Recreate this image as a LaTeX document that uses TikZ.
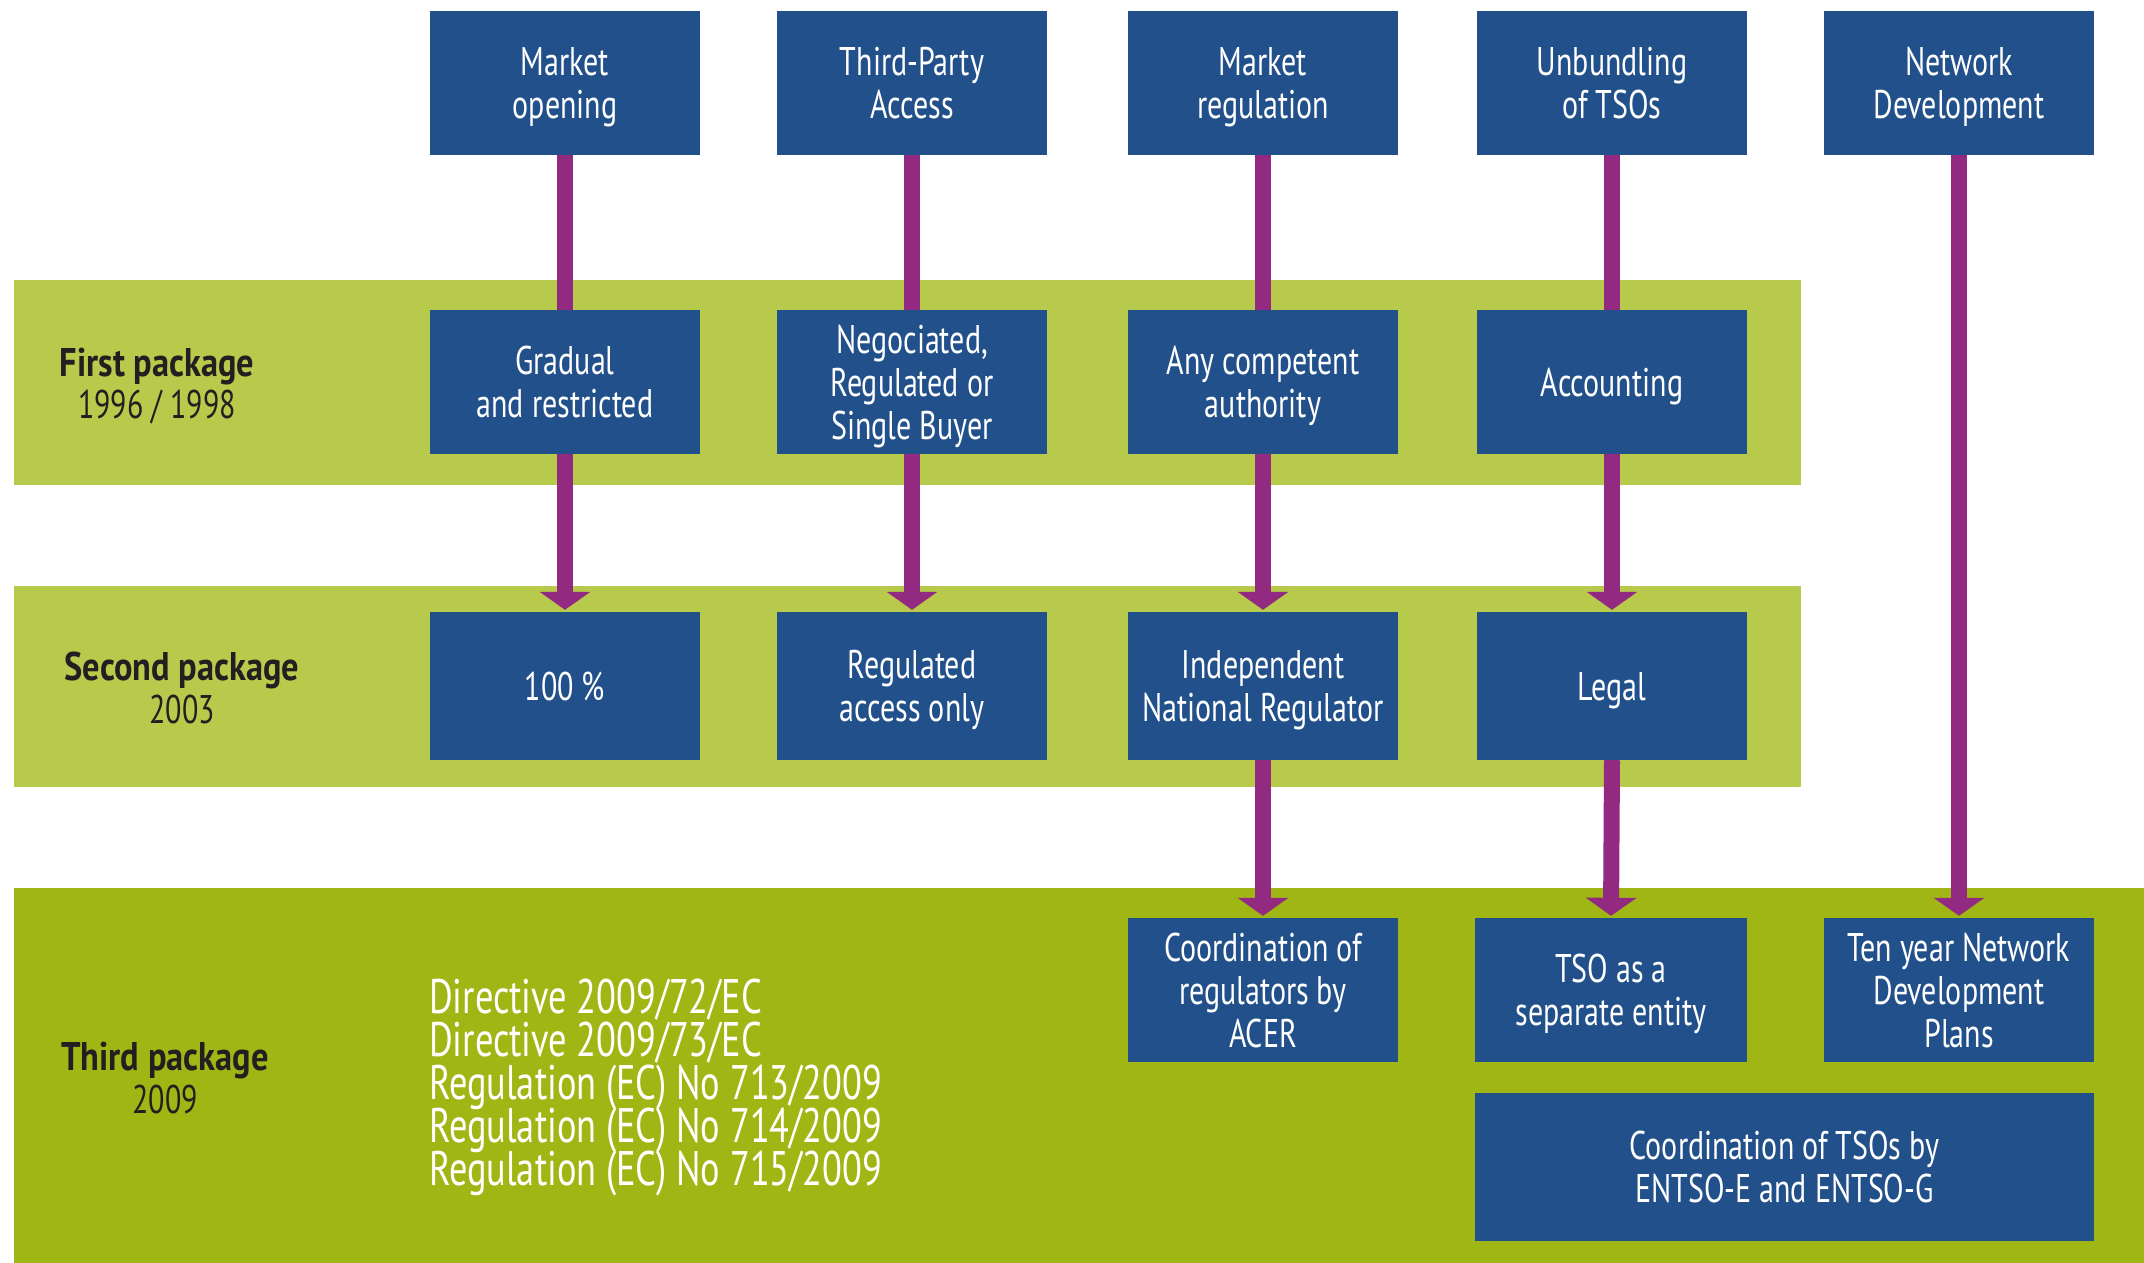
\documentclass[tikz,border=0pt]{standalone}
\usepackage{fontspec}
\setmainfont{PT Sans}[FakeStretch=0.75,BoldFeatures={FakeStretch=0.86}]
\usetikzlibrary{arrows.meta}
\definecolor{boxblue}{HTML}{22508A}
\definecolor{bandlight}{HTML}{B8CA4C}
\definecolor{banddark}{HTML}{A0B614}
\definecolor{arrowpurple}{HTML}{912A80}
\definecolor{labeltext}{HTML}{231F20}
\newcommand\mydirfont{\fontsize{48.5}{43}\selectfont\lineskiplimit=-100pt\relax}
\begin{document}
\begin{tikzpicture}[x=1pt,y=-1pt,
  box/.style={fill=boxblue,text=white,minimum width=270pt,minimum height=144pt,inner sep=0pt,align=center,text depth=0pt,font=\fontsize{40}{43}\selectfont},
  stem/.style={draw=arrowpurple,line width=16pt},
  arr/.style={stem,-{Triangle[width=50pt,length=18pt]},shorten >=2pt},
  pkg/.style={text=labeltext,align=center,font=\fontsize{40}{42.5}\selectfont}]
\useasboundingbox (0,0) rectangle (2144,1263);
% bands
\fill[bandlight] (14,280) rectangle (1801,485);
\fill[bandlight] (14,586) rectangle (1801,787);
\fill[banddark] (14,888) rectangle (2144,1263);
% package labels
\node[pkg] (p1) at (157,386) {\textbf{First package}\\1996 / 1998};
\node[pkg] (p2) at (182,688) {\textbf{Second package}\\2003};
\node[pkg] (p3) at (165,1078) {\textbf{Third package}\\2009};
% top row
\node[box] (t1) at (565,83) {Market\\opening};
\node[box] (t2) at (912,83) {Third-Party\\Access};
\node[box] (t3) at (1263,83) {Market\\regulation};
\node[box] (t4) at (1612,83) {Unbundling\\of TSOs};
\node[box] (t5) at (1959,83) {Network\\Development};
% first package row
\node[box] (a1) at (565,382) {Gradual\\and restricted};
\node[box] (a2) at (912,382) {Negociated,\\Regulated or\\Single Buyer};
\node[box] (a3) at (1263,382) {Any competent\\authority};
\node[box] (a4) at (1612,382) {Accounting};
% second package row
\node[box,minimum height=148pt] (b1) at (565,686) {100 \%};
\node[box,minimum height=148pt] (b2) at (912,686) {Regulated\\access only};
\node[box,minimum height=148pt] (b3) at (1263,686) {Independent\\National Regulator};
\node[box,minimum height=148pt] (b4) at (1612,686) {Legal};
% third package row
\node[box] (c3) at (1263,990) {Coordination of\\regulators by\\ACER};
\node[box,minimum width=272pt] (c4) at (1611,990) {TSO as a\\separate entity};
\node[box] (c5) at (1959,990) {Ten year Network\\Development\\Plans};
\node[box,minimum width=619pt,minimum height=148pt] (c6) at (1784.5,1166.5) {Coordination of TSOs by\\ENTSO-E and ENTSO-G};
\node[text=white,anchor=west,align=left,inner sep=0pt,font=\mydirfont] (dir) at (429,1088)
  {Directive 2009/72/EC\\Directive 2009/73/EC\\Regulation (EC) No 713/2009\\Regulation (EC) No 714/2009\\Regulation (EC) No 715/2009};
% connectors
\draw[stem] (t1.south) -- (a1.north);
\draw[stem] (t2.south) -- (a2.north);
\draw[stem] (t3.south) -- (a3.north);
\draw[stem] (t4.south) -- (a4.north);
\draw[arr] (a1.south) -- (b1.north);
\draw[arr] (a2.south) -- (b2.north);
\draw[arr] (a3.south) -- (b3.north);
\draw[arr] (a4.south) -- (b4.north);
\draw[arr] (b3.south) -- (c3.north);
\draw[arr] (b4.south) -- (c4.north);
\draw[arr] (t5.south) -- (c5.north);
\end{tikzpicture}
\end{document}
